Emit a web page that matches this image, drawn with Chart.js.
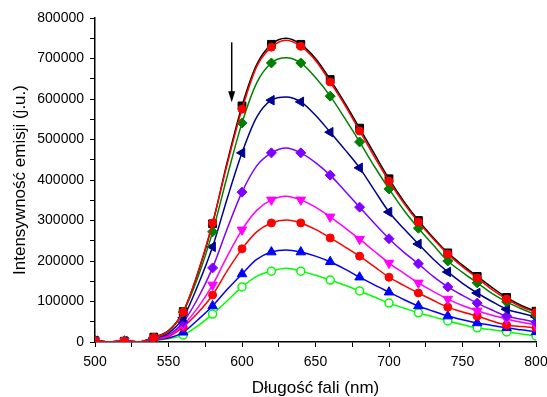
<!DOCTYPE html>
<html>
<head>
<meta charset="utf-8">
<script src="https://cdn.jsdelivr.net/npm/chart.js@4"></script>
<style>
html, body { margin: 0; padding: 0; background: #fff; }
canvas { display: block; }
</style>
</head>
<body>
<canvas id="emisja" width="547" height="397"></canvas>
<script>
const ctx = document.getElementById('emisja');

// długości fali (nm)
const wavelengths = [500, 510, 520, 530, 540, 550, 560, 570, 580, 590, 600, 610, 620, 630, 640, 650,
                     660, 670, 680, 690, 700, 710, 720, 730, 740, 750, 760, 770, 780, 790, 800];

const s1 = [3000, 0, 2000, 0, 12000, 28000, 75000, 170000, 292000, 445000, 583000, 685000, 735000, 750000, 735000, 700000,
            648000, 590000, 528000, 465000, 403000, 348000, 300000, 258000, 220000, 190000, 162000, 135000, 110000, 90000, 76000];
const s2 = [3000, 0, 2000, 0, 11000, 27000, 74000, 172000, 294000, 440000, 575000, 680000, 728000, 745000, 730000, 695000,
            642000, 585000, 521000, 458000, 397000, 343000, 296000, 255000, 217000, 186000, 158000, 130000, 106000, 87000, 73000];
const s3 = [3000, 0, 2000, 0, 10000, 26000, 74000, 160000, 272000, 410000, 541000, 640000, 689000, 702000, 689000, 653000,
            607000, 552000, 494000, 434000, 378000, 326000, 281000, 240000, 200000, 172000, 146000, 120000, 99000, 82000, 67000];
const s4 = [3000, 0, 2000, 0, 10000, 22000, 60000, 140000, 235000, 355000, 467000, 555000, 597000, 605000, 593000, 560000,
            518000, 475000, 430000, 375000, 321000, 280000, 242000, 205000, 173000, 145000, 121000, 100000, 81000, 71000, 62000];
const s5 = [3000, 0, 2000, 0, 8000, 18000, 49000, 108000, 183000, 280000, 370000, 435000, 467000, 479000, 467000, 443000,
            412000, 373000, 333000, 293000, 255000, 222000, 193000, 162000, 136000, 115000, 96000, 79000, 64000, 56000, 49000];
const s6 = [3000, 0, 2000, 0, 7000, 15000, 42000, 85000, 141000, 212000, 277000, 325000, 351000, 360000, 351000, 333000,
            309000, 282000, 254000, 224000, 195000, 170000, 146000, 125000, 106000, 90000, 77000, 66000, 57000, 49000, 42000];
const s7 = [3000, 0, 2000, 0, 6000, 13000, 37000, 72000, 116000, 176000, 230000, 272000, 294000, 301000, 294000, 278000,
            257000, 235000, 212000, 186000, 160000, 140000, 121000, 103000, 86000, 74000, 64000, 52000, 42000, 38000, 35000];
const s8 = [3000, 0, 2000, 0, 5000, 10000, 24000, 55000, 89000, 130000, 168000, 204000, 222000, 227000, 222000, 212000,
            198000, 180000, 160000, 141000, 123000, 105000, 89000, 76000, 64000, 55000, 47000, 41000, 35000, 30000, 25000];
const s9 = [3000, 0, 2000, 0, 4000, 8000, 17000, 40000, 69000, 102000, 136000, 162000, 175000, 182000, 175000, 165000,
            153000, 140000, 126000, 111000, 96000, 84000, 72000, 62000, 52000, 43000, 35000, 30000, 25000, 20000, 15000];

const xTicks = [500, 550, 600, 650, 700, 750, 800];
const yTicks = [0, 100000, 200000, 300000, 400000, 500000, 600000, 700000, 800000];

// strzałka: x, y początku, y końca
const arrowX = 593;
const arrowY = [740000, 592000];

function pts(vals) {
    return wavelengths.map((w, i) => ({x: w, y: vals[i]}));
}

function markerEvery20(r) {
    return c => (c.raw && c.raw.x % 20 === 0 ? r : 0);
}

function series(vals, color, style, r, extra) {
    return Object.assign({
        data: pts(vals),
        borderColor: color,
        backgroundColor: color,
        borderWidth: 1.5,
        pointStyle: style,
        pointRadius: markerEvery20(r),
        pointBorderWidth: 1,
        pointBorderColor: color,
        pointBackgroundColor: color,
        cubicInterpolationMode: 'monotone'
    }, extra || {});
}

const arrowPlugin = {
    id: 'arrow',
    afterDatasetsDraw(chart) {
        const c = chart.ctx;
        const x = chart.scales.x.getPixelForValue(arrowX);
        const y1 = chart.scales.y.getPixelForValue(arrowY[0]);
        const y2 = chart.scales.y.getPixelForValue(arrowY[1]);
        c.save();
        c.strokeStyle = '#000';
        c.fillStyle = '#000';
        c.lineWidth = 1.5;
        c.beginPath();
        c.moveTo(x, y1);
        c.lineTo(x, y2 - 8);
        c.stroke();
        c.beginPath();
        c.moveTo(x - 3.5, y2 - 11);
        c.lineTo(x + 3.5, y2 - 11);
        c.lineTo(x, y2);
        c.closePath();
        c.fill();
        c.restore();
    }
};

const tickFont = {family: '"Liberation Sans", Arial, sans-serif', size: 14};
const titleFont = {family: '"Liberation Sans", Arial, sans-serif', size: 17, lineHeight: 1.0};

new Chart(ctx, {
    type: 'line',
    data: {
        datasets: [
            series(s2, '#ff0000', 'circle', 4),
            series(s1, '#000000', 'rect', 5.5, {order: 1}),
            series(s3, '#008000', 'rectRot', 5),
            series(s4, '#000090', 'triangle', 5.5, {pointRotation: -90}),
            series(s5, '#8000ff', 'rectRot', 5),
            series(s6, '#ff00ff', 'triangle', 5.5, {pointRotation: 180}),
            series(s7, '#ff0000', 'circle', 4),
            series(s8, '#0000ff', 'triangle', 5.5),
            series(s9, '#00ff00', 'circle', 4, {pointBackgroundColor: '#ffffff', pointBorderWidth: 1.5})
        ]
    },
    options: {
        responsive: false,
        animation: false,
        devicePixelRatio: 1,
        layout: {
            padding: {left: 0, right: 11, top: 18, bottom: 0}
        },
        scales: {
            x: {
                type: 'linear',
                min: 500,
                max: 800,
                afterFit: s => { s.height = 55; s.paddingRight = 0; s.paddingLeft = 0; },
                grid: {
                    drawOnChartArea: false,
                    drawTicks: true,
                    tickLength: 5,
                    tickColor: '#000',
                    tickWidth: 1
                },
                border: {color: '#000', width: 1.5},
                ticks: {
                    stepSize: 25,
                    autoSkip: false,
                    maxRotation: 0,
                    padding: 7,
                    color: '#000',
                    font: tickFont,
                    callback: v => (xTicks.includes(v) ? v : '')
                },
                title: {
                    display: true,
                    text: 'Długość fali (nm)',
                    color: '#000',
                    font: titleFont,
                    padding: {top: 0, bottom: 0}
                }
            },
            y: {
                min: 0,
                max: 800000,
                afterFit: s => { s.width = 95; },
                grid: {
                    drawOnChartArea: false,
                    drawTicks: true,
                    tickLength: 5,
                    tickColor: '#000',
                    tickWidth: 1
                },
                border: {color: '#000', width: 1.5},
                ticks: {
                    stepSize: 50000,
                    autoSkip: false,
                    padding: 6,
                    color: '#000',
                    font: tickFont,
                    callback: v => (yTicks.includes(v) ? v : '')
                },
                title: {
                    display: true,
                    text: 'Intensywność emisji (j.u.)',
                    color: '#000',
                    font: titleFont,
                    padding: {top: 12, bottom: 0}
                }
            }
        },
        plugins: {
            legend: {display: false},
            tooltip: {enabled: false}
        }
    },
    plugins: [arrowPlugin]
});
</script>
</body>
</html>
